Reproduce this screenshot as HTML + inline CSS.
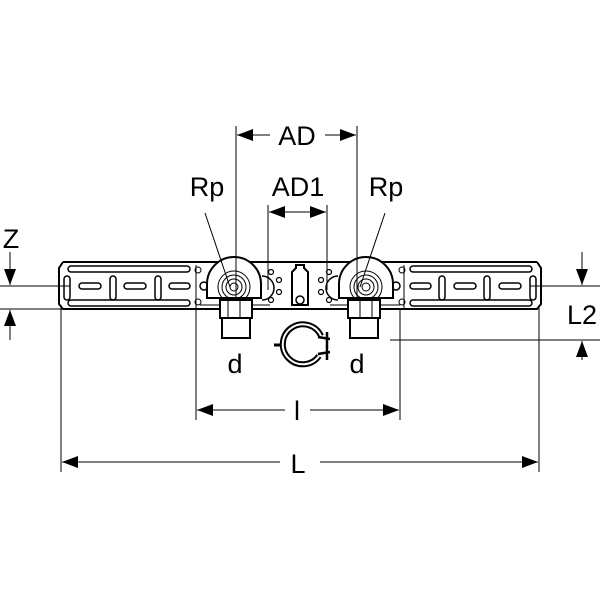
<!DOCTYPE html><html><head><style>body{margin:0;background:#fff}svg{display:block}text{font-family:"Liberation Sans",sans-serif;fill:#000}</style></head><body>
<svg width="600" height="600" viewBox="0 0 600 600" xmlns="http://www.w3.org/2000/svg">
<defs>
<g id="rail" fill="none" stroke="#000">
<path d="M63,262 H200 M63,262 L59,268 V304 L63,309 H200" stroke-width="2"/>
<rect x="68" y="266" width="122" height="6" rx="3" stroke-width="1.5"/>
<rect x="68" y="300" width="122" height="6" rx="3" stroke-width="1.5"/>
<rect x="64" y="276" width="6" height="24" rx="3" stroke-width="1.5"/>
<rect x="110" y="276" width="6" height="24" rx="3" stroke-width="1.5"/>
<rect x="155" y="276" width="6" height="24" rx="3" stroke-width="1.5"/>
<rect x="79" y="283" width="22" height="6" rx="3" stroke-width="1.5"/>
<rect x="124" y="283" width="22" height="6" rx="3" stroke-width="1.5"/>
<rect x="169" y="283" width="21" height="6" rx="3" stroke-width="1.5"/>
<circle cx="198" cy="270" r="3" stroke-width="1"/><circle cx="198" cy="302" r="3" stroke-width="1"/>
<path d="M196,265 V308" stroke-width="1"/>
<path d="M200,262 H270 M200,309 H270" stroke-width="2"/>
<path d="M200,305 H270" stroke-width="1"/>
<circle cx="204" cy="286" r="4" stroke-width="1.5"/>
<path d="M207,298 V284 A27,27 0 0 1 261,284 V298 Z" fill="#fff" stroke-width="2"/>
<circle cx="234" cy="287" r="16" stroke-width="1"/>
<circle cx="234" cy="287" r="12" stroke-width="1"/>
<circle cx="234" cy="287" r="8" stroke-width="1"/>
<circle cx="234" cy="287" r="4" stroke-width="1"/>
<path d="M220,300 H252 V318 H220 Z" fill="#fff" stroke-width="2"/>
<path d="M222,318 V338 H250 V318" stroke-width="2"/>
<path d="M228,300 V318 M240,300 V318" stroke-width="1"/>
<path d="M262,276 A12,12 0 0 1 262,300" stroke-width="1.5"/>
<circle cx="271" cy="272" r="2.5" stroke-width="1.2"/><circle cx="279" cy="280" r="2.5" stroke-width="1.2"/><circle cx="279" cy="292" r="2.5" stroke-width="1.2"/><circle cx="271" cy="300" r="2.5" stroke-width="1.2"/>
</g>
<marker id="a" viewBox="0 0 16 12" refX="16" refY="6" markerWidth="16" markerHeight="12" markerUnits="userSpaceOnUse" orient="auto"><path d="M0,0 L16,6 L0,12Z"/></marker>
</defs>
<use href="#rail"/>
<use href="#rail" transform="translate(600,0) scale(-1,1)"/>
<path d="M270,262 H330 M270,309 H330" stroke="#000" stroke-width="2"/>
<path d="M292,305 V272 L296,268 V265 H304 V268 L308,272 V305 Z" fill="#fff" stroke="#000" stroke-width="2"/>
<circle cx="300" cy="300" r="4" fill="none" stroke="#000" stroke-width="1.5"/>
<path d="M319,356 A20,20 0 1 1 321,336" fill="none" stroke="#000" stroke-width="6"/>
<path d="M319,356 A20,20 0 1 1 321,336" fill="none" stroke="#fff" stroke-width="2"/>
<path d="M318,337 L330,339 M318,354 L330,352 M327,332 V360" stroke="#000" stroke-width="2.5"/>
<path d="M274,345 H280" stroke="#000" stroke-width="3"/>
<g stroke="#000" stroke-width="1" fill="none">
<path d="M236,126 V300 M357,126 V300 M268,205 V290 M327,205 V290"/>
<path d="M0,286 H70 M0,309 H220 M530,286 H600 M390,340 H600"/>
<path d="M61,308 V472 M539,308 V472 M196,310 V420 M400,310 V420"/>
<path d="M205,213 L230,287 M385,213 L360,287"/>
<path d="M270,135 H237" marker-end="url(#a)"/>
<path d="M325,135 H356" marker-end="url(#a)"/>
<path d="M297,212 H269" marker-end="url(#a)"/>
<path d="M297,212 H326" marker-end="url(#a)"/>
<path d="M280,462 H62" marker-end="url(#a)"/>
<path d="M320,462 H538" marker-end="url(#a)"/>
<path d="M285,410 H197" marker-end="url(#a)"/>
<path d="M310,410 H399" marker-end="url(#a)"/>
<path d="M10,252 V285" marker-end="url(#a)"/>
<path d="M10,340 V310" marker-end="url(#a)"/>
<path d="M582,252 V285" marker-end="url(#a)"/>
<path d="M582,360 V341" marker-end="url(#a)"/>
</g>
<g font-size="27">
<text x="297" y="145" text-anchor="middle">AD</text>
<text x="298" y="196" text-anchor="middle">AD1</text>
<text x="207" y="196" text-anchor="middle">Rp</text>
<text x="386" y="196" text-anchor="middle">Rp</text>
<text x="11" y="248" text-anchor="middle">Z</text>
<text x="582" y="324" text-anchor="middle">L2</text>
<text x="235" y="373" text-anchor="middle">d</text>
<text x="357" y="373" text-anchor="middle">d</text>
<text x="297" y="420" text-anchor="middle">l</text>
<text x="298" y="473" text-anchor="middle">L</text>
</g>
</svg>
</body></html>
